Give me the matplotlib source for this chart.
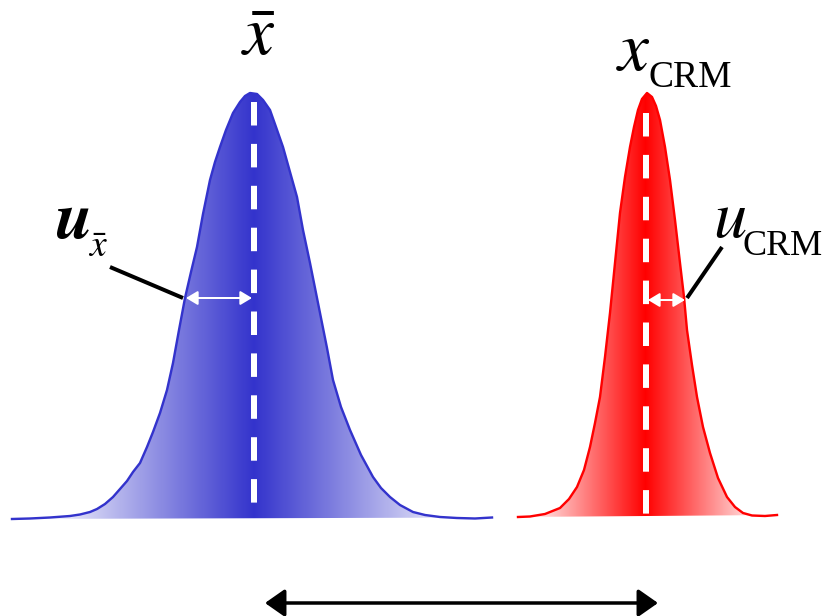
import numpy as np
import matplotlib
matplotlib.use("Agg")
import matplotlib.pyplot as plt
from matplotlib.patches import Polygon, FancyArrowPatch

plt.rcParams["mathtext.fontset"] = "stix"

# curve outlines (pixel coords, y grows downwards)
blue_x = [12, 30, 50, 70, 80, 90, 97, 105, 113, 120, 127, 133, 140, 147, 153, 160, 167, 173, 179,
          185, 191, 197, 203, 210, 215, 220, 226, 233, 240, 245, 250, 257, 263, 270, 276, 283, 290,
          297, 303, 310, 315, 320, 327, 333, 341, 350, 361, 373, 381, 390, 400, 413, 425, 440, 457,
          475, 492]
blue_y = [519, 518.5, 517.5, 516, 514.5, 512, 509, 504, 497, 489, 481, 472, 463, 447, 432, 413, 390,
          363, 330, 298, 272, 247, 214, 180, 162, 147, 130, 113, 102, 96, 93, 94, 100, 110, 127, 147,
          172, 197, 230, 263, 288, 313, 348, 380, 407, 430, 455, 477, 488, 497, 505, 512, 515, 517,
          518, 518.5, 517.5]

red_x = [518, 530, 545, 560, 569, 577, 584, 590, 595, 600, 605, 610, 615, 620, 625, 630, 634, 638,
         642, 647, 652, 656, 660, 665, 670, 675, 680, 684, 687, 692, 697, 703, 710, 718, 727, 735,
         743, 752, 765, 777]
red_y = [517, 516.5, 514, 508, 499, 487, 470, 447, 423, 397, 357, 313, 263, 213, 177, 147, 127, 110,
         99, 93, 97, 106, 120, 147, 180, 220, 263, 297, 330, 365, 397, 427, 453, 478, 497, 507, 513,
         515.5, 516, 515]

blue_center = 254
red_center = 645.5

blue_col = "#3333CC"
red_col = "#FF0000"

W, H = 827, 616
fig = plt.figure(figsize=(W / 100, H / 100), dpi=100)
ax = fig.add_axes([0, 0, 1, 1])
ax.set_xlim(0, W)
ax.set_ylim(H, 0)
ax.axis("off")

px = 72 / 100  # one pixel in points


def gradient_fill(xs, ys, center, color, falloff):
    xs = np.asarray(xs, float)
    ys = np.asarray(ys, float)
    gx = np.linspace(xs.min(), xs.max(), 400)
    t = np.clip(np.abs(gx - center) / falloff, 0, 1)[:, None]
    c = np.array(matplotlib.colors.to_rgb(color))
    rgb = c * (1 - t) + np.ones(3) * t
    im = ax.imshow(rgb[None, :, :], extent=[xs.min(), xs.max(), ys.max(), ys.min()],
                   aspect="auto", interpolation="bilinear", zorder=1)
    poly = Polygon(np.column_stack([xs, ys]), closed=True, transform=ax.transData,
                   facecolor="none", edgecolor="none")
    ax.add_patch(poly)
    im.set_clip_path(poly)
    ax.plot(xs, ys, color=color, lw=2.4 * px, solid_joinstyle="round", zorder=3)


gradient_fill(blue_x, blue_y, blue_center, blue_col, 215)
gradient_fill(red_x, red_y, red_center, red_col, 120)

# dashed centre lines
lw = 6 * px
dash = (0, (23.5 * px / lw, 18.4 * px / lw))
ax.plot([blue_center, blue_center], [102, 505], color="white", lw=lw, ls=dash,
        dash_capstyle="butt", zorder=4)
ax.plot([red_center, red_center], [113, 517], color="white", lw=lw, ls=dash,
        dash_capstyle="butt", zorder=4)


def arrow(p0, p1, color, lw_px, scale, style):
    a = FancyArrowPatch(p0, p1, arrowstyle=style, mutation_scale=scale,
                        color=color, lw=lw_px * px, shrinkA=0, shrinkB=0, zorder=5)
    ax.add_patch(a)


# white uncertainty arrows
arrow((186, 298), (252, 298), "white", 2, 7, "<|-|>,head_length=1.0,head_width=0.6")
arrow((648, 300), (685, 300), "white", 2, 7, "<|-|>,head_length=1.0,head_width=0.6")

# black leader lines
ax.plot([110, 183], [267, 298], color="black", lw=4 * px, solid_capstyle="butt", zorder=5)
ax.plot([722, 687], [247, 298], color="black", lw=4 * px, solid_capstyle="butt", zorder=5)

# bottom double arrow
arrow((265, 603), (658, 603), "black", 3.5, 12, "<|-|>,head_length=1.0,head_width=0.7")

# labels
serif = "Liberation Serif"

ax.text(258, 55, r"$\bar{x}$", fontsize=50, ha="center", va="baseline")

ax.text(616, 70, r"$x$", fontsize=50, ha="left", va="baseline")
ax.text(648, 87, "CRM", fontsize=27, family=serif, ha="left", va="baseline")

ax.text(55, 238, r"$\mathbfit{u}$", fontsize=48, ha="left", va="baseline")
ax.text(98, 257, r"$\bar{x}$", fontsize=27, ha="center", va="baseline")

ax.text(713, 237, r"$u$", fontsize=48, ha="left", va="baseline")
ax.text(742, 255, "CRM", fontsize=26, family=serif, ha="left", va="baseline")

fig.savefig("out.png", dpi=100)
